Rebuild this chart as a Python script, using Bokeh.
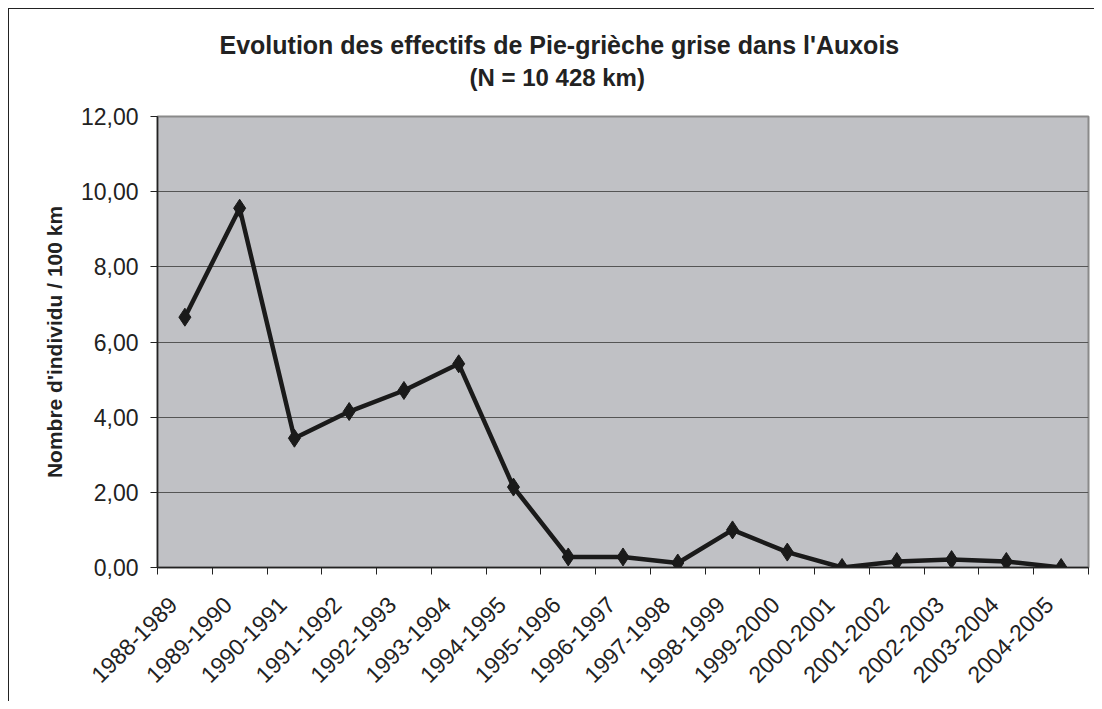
from bokeh.plotting import figure
from bokeh.models import FixedTicker, Title, ColumnDataSource
from bokeh.embed import file_html
from bokeh.resources import INLINE
import math

seasons = ["1988-1989", "1989-1990", "1990-1991", "1991-1992", "1992-1993",
           "1993-1994", "1994-1995", "1995-1996", "1996-1997", "1997-1998",
           "1998-1999", "1999-2000", "2000-2001", "2001-2002", "2002-2003",
           "2003-2004", "2004-2005"]
values = [6.66, 9.56, 3.44, 4.15, 4.71, 5.42, 2.14, 0.28, 0.28, 0.12,
          1.00, 0.41, 0.00, 0.16, 0.21, 0.16, 0.00]
y_ticks = [0, 2, 4, 6, 8, 10, 12]
y_tick_labels = ["0,00", "2,00", "4,00", "6,00", "8,00", "10,00", "12,00"]
title_1 = "Evolution des effectifs de Pie-grièche grise dans l'Auxois"
title_2 = "(N = 10 428 km)"

n = len(seasons)
xs = [i + 0.5 for i in range(n)]
label_pos = [i + 0.28 for i in range(n)]   # rotated labels sit slightly left of centre
src = ColumnDataSource(dict(x=xs, y=values))

FONT = "Liberation Sans"

frame_css = {
    "background-color": "white",
    "background-image": "linear-gradient(#222222, #222222), linear-gradient(#222222, #222222)",
    "background-position": "8px 8px, 8px 8px",
    "background-size": "1px 100%, 100% 1px",
    "background-repeat": "no-repeat",
}

p = figure(width=1094, height=701, output_backend="svg", toolbar_location=None,
           x_range=(0, n), y_range=(0, 12),
           min_border_left=157, min_border_top=116, min_border_right=6, min_border_bottom=134,
           background_fill_color="#c0c1c5", border_fill_color=None,
           outline_line_color="#8a8a8a", outline_line_width=2,
           styles=frame_css)

p.add_layout(Title(text=title_2, text_font=FONT, text_font_size="24px",
                   text_font_style="bold", align="left", offset=312,
                   text_color="#222222", standoff=51), "above")
p.add_layout(Title(text=title_1, text_font=FONT, text_font_size="25px",
                   text_font_style="bold", align="left", offset=62,
                   text_color="#222222", standoff=-44), "above")

p.line("x", "y", source=src, line_color="#1a1a1a", line_width=4.5)
p.scatter("x", "y", source=src, marker="diamond", size=18, fill_color="#1a1a1a",
          line_color="#1a1a1a")

# x axis
p.xaxis.ticker = FixedTicker(ticks=label_pos, minor_ticks=list(range(n + 1)))
p.xaxis.major_label_overrides = {x: s for x, s in zip(label_pos, seasons)}
p.xaxis.major_label_orientation = math.pi / 4
p.xaxis.major_tick_line_color = None
p.xaxis.minor_tick_line_color = "#222222"
p.xaxis.minor_tick_in = 0
p.xaxis.minor_tick_out = 7
p.xaxis.major_label_standoff = 26
p.xaxis.major_label_text_font = FONT
p.xaxis.major_label_text_font_size = "23px"
p.xaxis.major_label_text_color = "#222222"
p.xaxis.axis_line_color = "#222222"
p.xaxis.axis_line_width = 1.5

# y axis
p.yaxis.ticker = FixedTicker(ticks=y_ticks, minor_ticks=[])
p.yaxis.major_label_overrides = {float(t): s for t, s in zip(y_ticks, y_tick_labels)}
p.yaxis.major_tick_in = 0
p.yaxis.major_tick_out = 7
p.yaxis.major_tick_line_color = "#222222"
p.yaxis.major_label_standoff = 12
p.yaxis.major_label_text_font = FONT
p.yaxis.major_label_text_font_size = "23px"
p.yaxis.major_label_text_color = "#222222"
p.yaxis.axis_line_color = "#222222"
p.yaxis.axis_line_width = 1.5
p.yaxis.axis_label = "Nombre d'individu / 100 km"
p.yaxis.axis_label_text_font = FONT
p.yaxis.axis_label_text_font_size = "21px"
p.yaxis.axis_label_text_font_style = "bold"
p.yaxis.axis_label_text_color = "#222222"
p.yaxis.axis_label_standoff = 12

p.xgrid.grid_line_color = None
p.ygrid.ticker = FixedTicker(ticks=y_ticks)
p.ygrid.grid_line_color = "#555555"
p.ygrid.grid_line_width = 1

open("out.html", "w").write(file_html(p, INLINE))
